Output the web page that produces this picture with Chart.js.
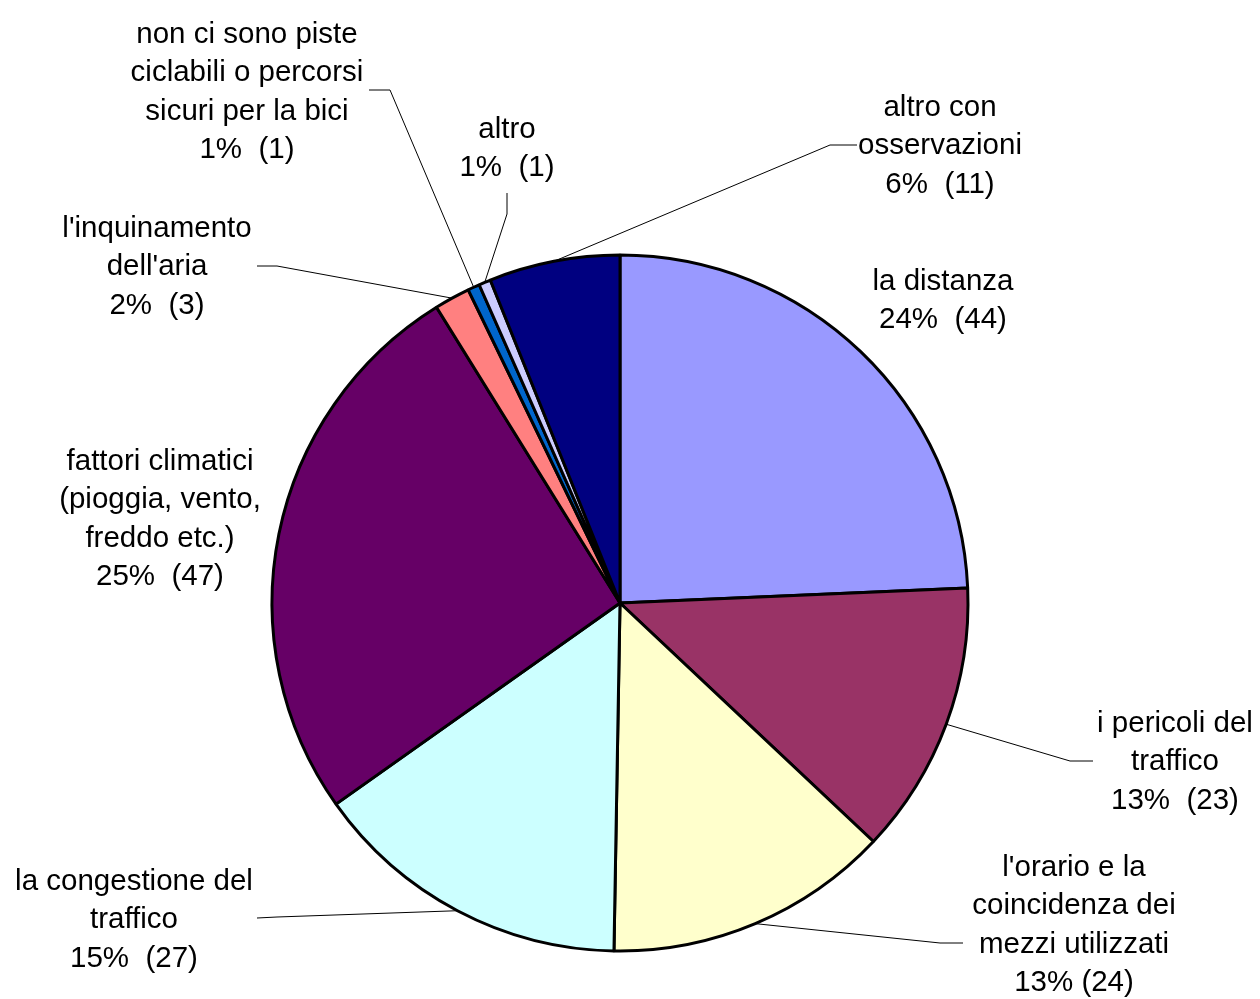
<!DOCTYPE html>
<html lang="it">
<head>
    <meta charset="UTF-8">
    <title>Motivi</title>
    <style>
        body {
            margin: 0;
            background-color: #ffffff;
        }
        .container {
            width: 1260px;
            height: 999px;
            position: relative;
        }
    </style>
    <script src="https://cdn.jsdelivr.net/npm/chart.js"></script>
</head>
<body>
    <div class="container">
        <canvas id="grafico"></canvas>
    </div>

    <script>
        // Dati del grafico
        const categorie = [
            ['la distanza'],
            ['i pericoli del', 'traffico'],
            ["l'orario e la", 'coincidenza dei', 'mezzi utilizzati'],
            ['la congestione del', 'traffico'],
            ['fattori climatici', '(pioggia, vento,', 'freddo etc.)'],
            ["l'inquinamento", "dell'aria"],
            ['non ci sono piste', 'ciclabili o percorsi', 'sicuri per la bici'],
            ['altro'],
            ['altro con', 'osservazioni']
        ];
        const valori = [44, 23, 24, 27, 47, 3, 1, 1, 11];
        const percentuali = ['24%  ', '13%  ', '13% ', '15%  ', '25%  ', '2%  ', '1%  ', '1%  ', '6%  '];
        const colori = ['#9999FF', '#993366', '#FFFFCC', '#CCFFFF', '#660066', '#FF8080', '#0066CC', '#CCCCFF', '#000080'];

        // Posizione delle etichette (centro della prima riga) e delle linee guida
        const posEtichette = [
            { x: 943, y: 282, coda: null },
            { x: 1175, y: 724, coda: [1093, 761], gomito: [1070, 761] },
            { x: 1074, y: 868, coda: [963, 943], gomito: [940, 943] },
            { x: 134, y: 882, coda: [257, 918], gomito: [277, 917] },
            { x: 160, y: 462, coda: null },
            { x: 157, y: 229, coda: [257, 266], gomito: [277, 266] },
            { x: 247, y: 35, coda: [369, 90], gomito: [390, 90] },
            { x: 507, y: 130, coda: [507, 193], gomito: [507, 214] },
            { x: 940, y: 108, coda: [857, 145], gomito: [830, 145] }
        ];

        const pluginEtichette = {
            id: 'etichette',
            afterDatasetsDraw(chart) {
                const ctx = chart.ctx;
                const archi = chart.getDatasetMeta(0).data;
                ctx.save();
                ctx.font = '29.5px "Liberation Sans", Arial, sans-serif';
                ctx.fillStyle = '#000';
                ctx.textAlign = 'center';
                ctx.textBaseline = 'middle';
                archi.forEach((arco, i) => {
                    const p = posEtichette[i];
                    const righe = categorie[i].concat([percentuali[i] + '(' + valori[i] + ')']);
                    righe.forEach((r, k) => ctx.fillText(r, p.x, p.y + k * 38.3));
                    if (p.coda) {
                        const a = (arco.startAngle + arco.endAngle) / 2;
                        const ex = arco.x + Math.cos(a) * arco.outerRadius;
                        const ey = arco.y + Math.sin(a) * arco.outerRadius;
                        ctx.beginPath();
                        ctx.strokeStyle = '#000';
                        ctx.lineWidth = 1;
                        ctx.moveTo(p.coda[0], p.coda[1]);
                        ctx.lineTo(p.gomito[0], p.gomito[1]);
                        ctx.lineTo(ex, ey);
                        ctx.stroke();
                    }
                });
                ctx.restore();
            }
        };

        const grafico = new Chart(document.getElementById('grafico'), {
            type: 'pie',
            data: {
                labels: categorie.map(c => c.join(' ')),
                datasets: [{
                    data: valori,
                    backgroundColor: colori,
                    borderColor: '#000',
                    borderWidth: 3
                }]
            },
            options: {
                responsive: true,
                maintainAspectRatio: false,
                animation: false,
                layout: {
                    padding: { left: 270.5, right: 290.5, top: 253.5, bottom: 46.5 }
                },
                plugins: {
                    legend: { display: false },
                    tooltip: { enabled: false }
                }
            },
            plugins: [pluginEtichette]
        });
    </script>
</body>
</html>
